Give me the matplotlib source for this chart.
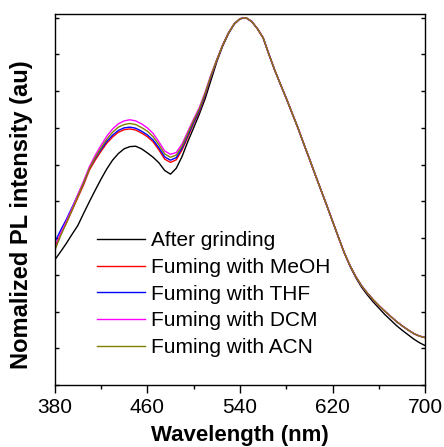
import matplotlib
matplotlib.use("Agg")
import matplotlib.pyplot as plt
import numpy as np

plt.rcParams['font.family'] = ['Liberation Sans', 'DejaVu Sans']

# Wavelength grid (nm)
wl_head = list(range(380, 520, 5))   # 380..515
wl_tail = list(range(520, 705, 5))   # 520..700

# Heads (380-515 nm)
after_grinding_head = [0.340, 0.362, 0.385, 0.410, 0.434, 0.467, 0.499, 0.530, 0.560, 0.588,
                       0.612, 0.630, 0.643, 0.649, 0.650, 0.643, 0.632, 0.620, 0.605, 0.584,
                       0.574, 0.590, 0.622, 0.663, 0.700, 0.738, 0.780, 0.830]
meoh_head = [0.375, 0.410, 0.440, 0.475, 0.510, 0.545, 0.585, 0.612, 0.636, 0.658,
             0.675, 0.688, 0.695, 0.697, 0.694, 0.686, 0.676, 0.662, 0.640, 0.615,
             0.606, 0.613, 0.640, 0.675, 0.712, 0.745, 0.790, 0.840]
thf_head = [0.388, 0.420, 0.450, 0.483, 0.517, 0.550, 0.590, 0.617, 0.641, 0.663,
            0.680, 0.693, 0.700, 0.702, 0.699, 0.691, 0.681, 0.667, 0.646, 0.621,
            0.612, 0.619, 0.645, 0.680, 0.715, 0.748, 0.792, 0.841]
dcm_head = [0.370, 0.410, 0.445, 0.480, 0.518, 0.555, 0.594, 0.625, 0.652, 0.677,
            0.697, 0.711, 0.719, 0.722, 0.719, 0.711, 0.700, 0.685, 0.662, 0.637,
            0.628, 0.633, 0.656, 0.690, 0.724, 0.756, 0.798, 0.845]
acn_head = [0.365, 0.405, 0.440, 0.476, 0.513, 0.550, 0.589, 0.619, 0.645, 0.669,
            0.688, 0.702, 0.709, 0.712, 0.709, 0.701, 0.691, 0.676, 0.654, 0.629,
            0.620, 0.626, 0.650, 0.685, 0.720, 0.752, 0.795, 0.843]

# Tails (520-700 nm)
fumed_tail = [0.885, 0.925, 0.958, 0.983, 0.997, 1.000, 0.990, 0.970, 0.945, 0.900,
              0.857, 0.818, 0.780, 0.740, 0.700, 0.657, 0.615, 0.572, 0.530, 0.488,
              0.445, 0.402, 0.360, 0.325, 0.295, 0.270, 0.250, 0.232, 0.216, 0.201,
              0.187, 0.173, 0.161, 0.150, 0.140, 0.133, 0.129]
ground_tail = [0.880, 0.922, 0.956, 0.982, 0.997, 1.000, 0.990, 0.970, 0.945, 0.900,
               0.857, 0.818, 0.780, 0.740, 0.700, 0.657, 0.615, 0.572, 0.530, 0.488,
               0.445, 0.402, 0.360, 0.323, 0.292, 0.266, 0.245, 0.226, 0.209, 0.192,
               0.177, 0.162, 0.149, 0.137, 0.125, 0.115, 0.107]

labels = ["After grinding", "Fuming with MeOH", "Fuming with THF",
          "Fuming with DCM", "Fuming with ACN"]
colors = ["black", "#ff0000", "#0000ff", "#ff00ff", "#808000"]

wl = np.array(wl_head + wl_tail)
series = [after_grinding_head + ground_tail,
          meoh_head + fumed_tail,
          thf_head + fumed_tail,
          dcm_head + fumed_tail,
          acn_head + fumed_tail]

fig = plt.figure(figsize=(4.44, 4.47), dpi=100)
ax = fig.add_axes([0.123, 0.1387, 0.835, 0.830])

for ys, lab, c in zip(series, labels, colors):
    ax.plot(wl, ys, color=c, lw=1.0, label=lab)

ax.set_xlim(380, 700)
ax.set_ylim(0, 1.01)
ax.set_xticks([380, 460, 540, 620, 700])
ax.set_xticks([420, 500, 580, 660], minor=True)
ax.set_yticks(np.arange(0, 1.01, 0.1))
ax.set_yticklabels([])

ax.tick_params(axis='x', which='major', direction='out', length=6, width=1,
               labelsize=15, pad=3, top=False)
ax.tick_params(axis='x', which='minor', direction='out', length=3, width=1, top=False)
ax.tick_params(axis='y', which='major', direction='in', length=3, width=1,
               left=True, right=True)
for s in ax.spines.values():
    s.set_linewidth(1.0)

ax.set_xlabel("Wavelength (nm)", fontsize=16, fontweight='bold', labelpad=6)
ax.set_ylabel("Nomalized PL intensity (au)", fontsize=17, fontweight='bold')
ax.yaxis.set_label_coords(-0.058, 0.46)

leg = ax.legend(loc='center left', bbox_to_anchor=(0.114, 0.245), frameon=False,
                fontsize=15, handlelength=2.3, handletextpad=0.3, labelspacing=0.37,
                borderpad=0, borderaxespad=0)

fig.savefig("out.png", dpi=100)
